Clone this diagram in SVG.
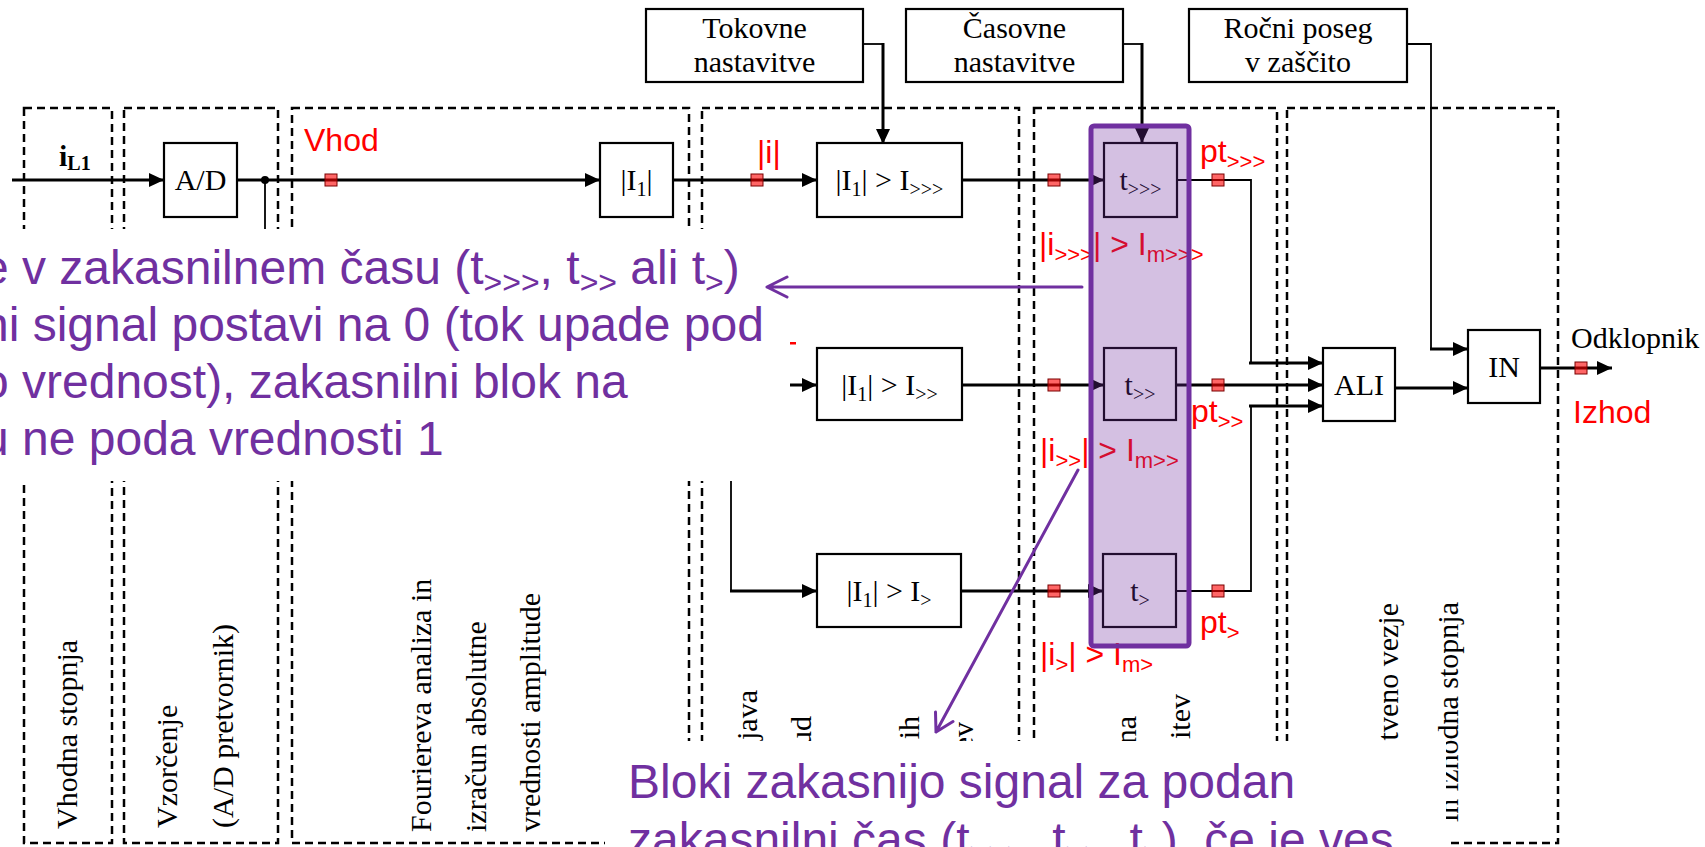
<svg xmlns="http://www.w3.org/2000/svg" width="1705" height="847" viewBox="0 0 1705 847">
<defs>
<style>
.sec{fill:none;stroke:#000;stroke-width:2.5;stroke-dasharray:8 5}
.box{fill:#fff;stroke:#000;stroke-width:2.2}
.w{fill:none;stroke:#000;stroke-width:3}
.t{fill:none;stroke:#000;stroke-width:1.8}
.sq{fill:#ff0000;fill-opacity:0.6;stroke:#7a0000;stroke-width:1}
.tn{font-family:"Liberation Serif","Times New Roman",serif;font-size:30px;fill:#000}
.rl{font-family:"Liberation Sans",Arial,sans-serif;font-size:32px;fill:#ff0000}
.cl{font-family:"Liberation Sans",Arial,sans-serif;font-size:48px;fill:#7030A0}
.pa{fill:none;stroke:#7030A0;stroke-width:3;stroke-linecap:round;stroke-linejoin:round}
</style>
<marker id="ah" markerUnits="userSpaceOnUse" markerWidth="15" markerHeight="14" refX="15" refY="7" orient="auto">
<path d="M0,0 L15,7 L0,14 z" fill="#000"/>
</marker>
</defs>
<rect width="1705" height="847" fill="#fff"/>

<g id="sections">
<rect class="sec" x="24" y="108" width="88" height="735"/>
<rect class="sec" x="124" y="108" width="154" height="735"/>
<rect class="sec" x="292" y="108" width="397" height="735"/>
<rect class="sec" x="702" y="108" width="317" height="735"/>
<rect class="sec" x="1034" y="108" width="243" height="735"/>
<rect class="sec" x="1287" y="108" width="271" height="735"/>
</g>

<g id="section-labels" class="tn">
<text transform="translate(77,829) rotate(-90)">Vhodna stopnja</text>
<text transform="translate(177,828) rotate(-90)">Vzorčenje</text>
<text transform="translate(233,828) rotate(-90)">(A/D pretvornik)</text>
<text transform="translate(431,832) rotate(-90)">Fouriereva analiza in</text>
<text transform="translate(486,832) rotate(-90)">izračun absolutne</text>
<text transform="translate(540,832) rotate(-90)">vrednosti amplitude</text>
<text transform="translate(757,690) rotate(-90)" text-anchor="end">java</text>
<text transform="translate(811,716) rotate(-90)" text-anchor="end">ud</text>
<text transform="translate(919,716) rotate(-90)" text-anchor="end">ih</text>
<text transform="translate(973,722) rotate(-90)" text-anchor="end">ev</text>
<text transform="translate(1136,716) rotate(-90)" text-anchor="end">na</text>
<text transform="translate(1190,694) rotate(-90)" text-anchor="end">itev</text>
<text transform="translate(1398,603) rotate(-90)" text-anchor="end">tveno vezje</text>
<text transform="translate(1458,602) rotate(-90)" text-anchor="end">in izhodna stopnja</text>
</g>

<g id="connectors">
<path class="w" d="M12,180 H164" marker-end="url(#ah)"/>
<path class="w" d="M237,180 H600" marker-end="url(#ah)"/>
<path class="t" d="M265,180 V240"/>
<circle cx="265" cy="180" r="4" fill="#000"/>
<path class="w" d="M673,180 H817" marker-end="url(#ah)"/>
<path class="w" d="M962,180 H1104" marker-end="url(#ah)"/>
<path class="t" d="M1177,180 H1251 V363"/>
<path class="w" d="M1249,363 H1323" marker-end="url(#ah)"/>
<path class="w" d="M740,385 H817" marker-end="url(#ah)"/>
<path class="w" d="M962,385 H1104" marker-end="url(#ah)"/>
<path class="w" d="M1176,385 H1323" marker-end="url(#ah)"/>
<path class="t" d="M731,470 V591"/>
<path class="w" d="M730,591 H817" marker-end="url(#ah)"/>
<path class="w" d="M961,591 H1103" marker-end="url(#ah)"/>
<path class="t" d="M1176,591 H1251 V406"/>
<path class="w" d="M1249,406 H1323" marker-end="url(#ah)"/>
<path class="w" d="M1395,388 H1468" marker-end="url(#ah)"/>
<path class="w" d="M1540,368 H1612" marker-end="url(#ah)"/>
<path class="t" d="M863,44 H883"/>
<path class="w" d="M883,43 V144" marker-end="url(#ah)"/>
<path class="t" d="M1123,44 H1142"/>
<path class="w" d="M1142,43 V143" marker-end="url(#ah)"/>
<path class="t" d="M1407,44 H1431 V349"/>
<path class="w" d="M1430,349 H1468" marker-end="url(#ah)"/>
</g>

<g id="tokovne">
<rect class="box" x="646" y="9" width="217" height="73"/>
<text class="tn" x="754.5" y="38" text-anchor="middle">Tokovne</text>
<text class="tn" x="754.5" y="72" text-anchor="middle">nastavitve</text>
</g>
<g id="casovne">
<rect class="box" x="906" y="9" width="217" height="73"/>
<text class="tn" x="1014.5" y="38" text-anchor="middle">Časovne</text>
<text class="tn" x="1014.5" y="72" text-anchor="middle">nastavitve</text>
</g>
<g id="rocni">
<rect class="box" x="1189" y="9" width="218" height="73"/>
<text class="tn" x="1298" y="38" text-anchor="middle">Ročni poseg</text>
<text class="tn" x="1298" y="72" text-anchor="middle">v zaščito</text>
</g>

<g id="il1-label">
<text class="tn" x="59" y="166" font-weight="bold">i<tspan font-size="20" dy="4">L1</tspan></text>
</g>
<g id="ad">
<rect class="box" x="164" y="143" width="73" height="74"/>
<text class="tn" x="200.5" y="190" text-anchor="middle">A/D</text>
</g>
<g id="abs">
<rect class="box" x="600" y="143" width="73" height="74"/>
<text class="tn" x="636.5" y="190" text-anchor="middle">|I<tspan font-size="20" dy="6">1</tspan><tspan dy="-6">|</tspan></text>
</g>
<g id="cmp3">
<rect class="box" x="817" y="143" width="145" height="74"/>
<text class="tn" x="889.5" y="190" text-anchor="middle">|I<tspan font-size="20" dy="6">1</tspan><tspan dy="-6">| &gt; I</tspan><tspan font-size="20" dy="6">&gt;&gt;&gt;</tspan></text>
</g>
<g id="cmp2">
<rect class="box" x="817" y="348" width="145" height="72"/>
<text class="tn" x="889.5" y="395" text-anchor="middle">|I<tspan font-size="20" dy="6">1</tspan><tspan dy="-6">| &gt; I</tspan><tspan font-size="20" dy="6">&gt;&gt;</tspan></text>
</g>
<g id="cmp1">
<rect class="box" x="817" y="554" width="144" height="73"/>
<text class="tn" x="889" y="601" text-anchor="middle">|I<tspan font-size="20" dy="6">1</tspan><tspan dy="-6">| &gt; I</tspan><tspan font-size="20" dy="6">&gt;</tspan></text>
</g>
<g id="t3">
<rect class="box" x="1104" y="143" width="73" height="74"/>
<text class="tn" x="1140.5" y="190" text-anchor="middle">t<tspan font-size="20" dy="6">&gt;&gt;&gt;</tspan></text>
</g>
<g id="t2">
<rect class="box" x="1104" y="348" width="72" height="72"/>
<text class="tn" x="1140" y="395" text-anchor="middle">t<tspan font-size="20" dy="6">&gt;&gt;</tspan></text>
</g>
<g id="t1">
<rect class="box" x="1103" y="554" width="73" height="73"/>
<text class="tn" x="1140" y="601" text-anchor="middle">t<tspan font-size="20" dy="6">&gt;</tspan></text>
</g>
<g id="ali">
<rect class="box" x="1323" y="348" width="72" height="73"/>
<text class="tn" x="1359" y="395" text-anchor="middle">ALI</text>
</g>
<g id="in">
<rect class="box" x="1468" y="330" width="72" height="73"/>
<text class="tn" x="1504" y="377" text-anchor="middle">IN</text>
</g>
<g id="odklopnik">
<text class="tn" x="1571" y="348">Odklopnik</text>
</g>

<g id="probes">
<rect class="sq" x="325" y="174" width="12" height="12"/>
<rect class="sq" x="751" y="174" width="12" height="12"/>
<rect class="sq" x="1048" y="174" width="12" height="12"/>
<rect class="sq" x="1212" y="174" width="12" height="12"/>
<rect class="sq" x="1048" y="379" width="12" height="12"/>
<rect class="sq" x="1212" y="379" width="12" height="12"/>
<rect class="sq" x="1048" y="585" width="12" height="12"/>
<rect class="sq" x="1212" y="585" width="12" height="12"/>
<rect class="sq" x="1575" y="362" width="12" height="12"/>
</g>

<g id="red-labels" class="rl">
<text x="304" y="151">Vhod</text>
<text x="757" y="163">|i|</text>
<text x="1200" y="162">pt<tspan font-size="22" dy="7">&gt;&gt;&gt;</tspan></text>
<text x="1191" y="422">pt<tspan font-size="22" dy="7">&gt;&gt;</tspan></text>
<text x="1200" y="633">pt<tspan font-size="22" dy="7">&gt;</tspan></text>
<text x="1039" y="255">|i<tspan font-size="22" dy="7">&gt;&gt;&gt;</tspan><tspan dy="-7">| &gt; I</tspan><tspan font-size="22" dy="7">m&gt;&gt;&gt;</tspan></text>
<text x="1040" y="461">|i<tspan font-size="22" dy="7">&gt;&gt;</tspan><tspan dy="-7">| &gt; I</tspan><tspan font-size="22" dy="7">m&gt;&gt;</tspan></text>
<text x="1040" y="665">|i<tspan font-size="22" dy="7">&gt;</tspan><tspan dy="-7">| &gt; I</tspan><tspan font-size="22" dy="7">m&gt;</tspan></text>
<text x="1573" y="423">Izhod</text>
</g>

<g id="delay-highlight">
<rect x="1091" y="126" width="98" height="520" rx="3" fill="#7030A0" fill-opacity="0.3" stroke="#7030A0" stroke-width="5"/>
</g>

<g id="callout-left">
<rect x="0" y="229" width="790" height="252" fill="#fff"/>
<rect x="790" y="342" width="6" height="2.5" fill="#ff0000"/>
<text class="cl" x="-18" y="284">e v zakasnilnem času (t<tspan font-size="32" dy="9">&gt;&gt;&gt;</tspan><tspan dy="-9">, t</tspan><tspan font-size="32" dy="9">&gt;&gt;</tspan><tspan dy="-9"> ali t</tspan><tspan font-size="32" dy="9">&gt;</tspan><tspan dy="-9">)</tspan></text>
<text class="cl" x="-18" y="341">ni signal postavi na 0 (tok upade pod</text>
<text class="cl" x="-18" y="398">o vrednost), zakasnilni blok na</text>
<text class="cl" x="-18" y="455">u ne poda vrednosti 1</text>
</g>

<g id="callout-bottom">
<rect x="605" y="741" width="841" height="106" fill="#fff"/>
<text class="cl" x="628" y="798">Bloki zakasnijo signal za podan</text>
<text class="cl" x="628" y="856">zakasnilni čas (t<tspan font-size="32" dy="9">&gt;&gt;&gt;</tspan><tspan dy="-9">, t</tspan><tspan font-size="32" dy="9">&gt;&gt;</tspan><tspan dy="-9">, t</tspan><tspan font-size="32" dy="9">&gt;</tspan><tspan dy="-9">), če je ves</tspan></text>
</g>

<g id="callout-arrows">
<path class="pa" d="M1082,287 H767 M787,277 L767,287 L787,297"/>
<path class="pa" d="M1078,470 L936,732 M953,721.5 L936,732 L935.5,712"/>
</g>
</svg>
